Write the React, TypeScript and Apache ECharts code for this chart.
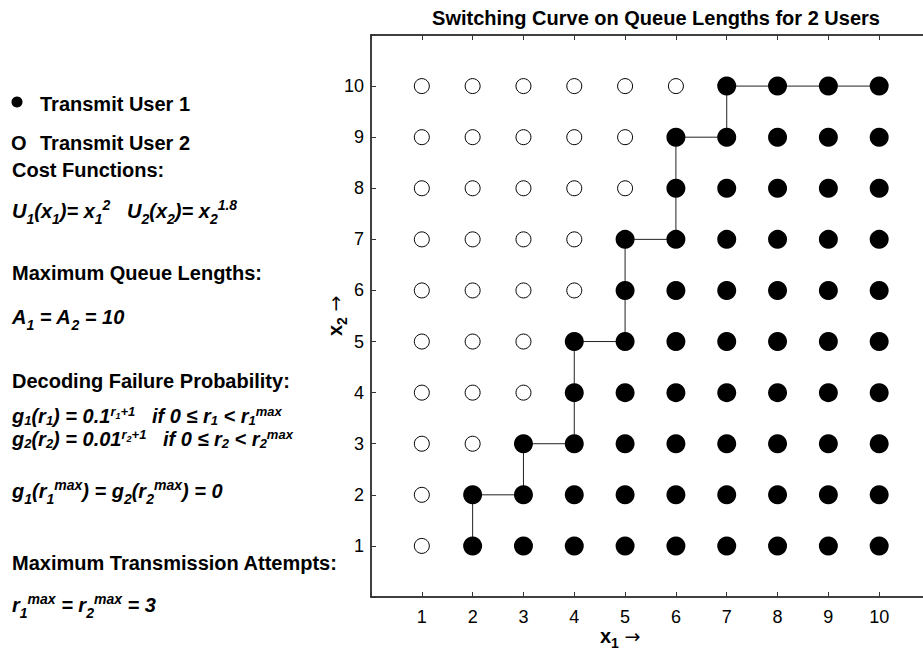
import React, { useEffect, useRef } from "react";
import * as echarts from "echarts";

// ---------- data ----------
const xTicks = [1, 2, 3, 4, 5, 6, 7, 8, 9, 10];
const yTicks = [1, 2, 3, 4, 5, 6, 7, 8, 9, 10];
// smallest x1 at which User 1 transmits, for x2 = 1..10
const switchX1 = [2, 2, 3, 4, 4, 5, 5, 6, 6, 7];
const titleText = "Switching Curve on Queue Lengths for 2 Users";
const seriesNames = ["Transmit User 1", "Transmit User 2"];
const headings = [
  "Cost Functions:",
  "Maximum Queue Lengths:",
  "Decoding Failure Probability:",
  "Maximum Transmission Attempts:",
];
const formulas = [
  "U{s|1}(x{s|1})= x{s|1}{p|2}   U{s|2}(x{s|2})= x{s|2}{p|1.8}",
  "A{s|1} = A{s|2} = 10",
  "g{s|1}(r{s|1}) = 0.1{p|r}{pp|1}{p|+1}   if 0 ≤ r{s|1} < r{s|1}{p|max}",
  "g{s|2}(r{s|2}) = 0.01{p|r}{pp|2}{p|+1}   if 0 ≤ r{s|2} < r{s|2}{p|max}",
  "g{s|1}(r{s|1}{p|max}) = g{s|2}(r{s|2}{p|max}) = 0",
  "r{s|1}{p|max} = r{s|2}{p|max} = 3",
];

const FONT = "'Liberation Sans', Arial, Helvetica, sans-serif";

function buildPoints() {
  const user1: number[][] = [];
  const user2: number[][] = [];
  yTicks.forEach((y, i) => {
    xTicks.forEach((x) => {
      (x >= switchX1[i] ? user1 : user2).push([x, y]);
    });
  });
  const curve: number[][] = [];
  switchX1.forEach((x, i) => {
    const y = yTicks[i];
    curve.push([x, y]);
    const next = switchX1[i + 1];
    if (next !== undefined && next !== x) curve.push([next, y]);
  });
  curve.push([xTicks[xTicks.length - 1], yTicks[yTicks.length - 1]]);
  return { user1, user2, curve };
}

const tok = (size: number, italic: boolean, extra: any = {}) => ({
  fontFamily: FONT,
  fontSize: size,
  fontWeight: "bold",
  fontStyle: italic ? "italic" : "normal",
  fill: "#000",
  ...extra,
});

const richStyles = {
  s: tok(14, true, { verticalAlign: "bottom", lineHeight: 13 }),
  p: tok(14, true, { verticalAlign: "top", lineHeight: 13, padding: [2, 0, 0, 0] }),
  pp: tok(10, true, { verticalAlign: "top", lineHeight: 9, padding: [8, 0, 0, 0] }),
};

const richTight = {
  s: tok(13, true, { verticalAlign: "bottom", lineHeight: 13 }),
  p: tok(13, true, { verticalAlign: "top", lineHeight: 13 }),
  pp: tok(9, true, { verticalAlign: "top", lineHeight: 9, padding: [6, 0, 0, 0] }),
};

function headingText(text: string, x: number, y: number) {
  return {
    type: "text",
    x,
    y,
    silent: true,
    style: { text, ...tok(20, false), verticalAlign: "middle", align: "left" },
  };
}

function formulaText(text: string, x: number, y: number, tight = false) {
  return {
    type: "text",
    x,
    y,
    silent: true,
    style: {
      text,
      ...tok(20, true),
      lineHeight: tight ? 22 : 30,
      verticalAlign: "middle",
      align: "left",
      rich: tight ? richTight : richStyles,
    },
  };
}

function axisName(sub: string, x: number, y: number, rotation: number) {
  return {
    type: "text",
    x,
    y,
    rotation,
    silent: true,
    style: {
      text: `x{s|${sub}} {a|→}`,
      ...tok(20, false),
      lineHeight: 28,
      verticalAlign: "middle",
      align: "left",
      rich: {
        s: tok(14, false, { verticalAlign: "bottom", lineHeight: 12 }),
        a: { fontFamily: "'DejaVu Sans', sans-serif", fontSize: 19, fill: "#000" },
      },
    },
  };
}

export default function App() {
  const ref = useRef<HTMLDivElement>(null);
  useEffect(() => {
    if (!ref.current) return;
    const chart = echarts.init(ref.current, undefined, { renderer: "svg" });
    const { user1, user2, curve } = buildPoints();

    const axisCommon = {
      type: "value",
      min: 0,
      max: 11,
      interval: 1,
      splitLine: { show: false },
      axisLine: { show: true, onZero: false, lineStyle: { color: "#000", width: 1.5 } },
      axisTick: { show: true, inside: true, length: 5, lineStyle: { color: "#333", width: 1 } },
    };
    const labelFmt = (v: number) => (v >= 1 && v <= 10 ? String(v) : "");

    chart.setOption({
      animation: false,
      backgroundColor: "#fff",
      title: {
        text: titleText,
        left: 651,
        top: 3,
        textAlign: "center",
        textStyle: { fontFamily: FONT, fontSize: 20, fontWeight: "bold", color: "#000" },
      },
      grid: {
        left: 371,
        top: 35,
        width: 559,
        height: 562,
        containLabel: false,
        outerBoundsMode: "none",
      },
      xAxis: [
        {
          ...axisCommon,
          position: "bottom",
          axisLabel: { fontFamily: FONT, fontSize: 18, color: "#000", margin: 11, formatter: labelFmt },
        },
        {
          ...axisCommon,
          position: "top",
          axisLabel: { show: false },
        },
      ],
      yAxis: [
        {
          ...axisCommon,
          position: "left",
          axisLabel: { fontFamily: FONT, fontSize: 18, color: "#000", margin: 7, formatter: labelFmt },
        },
        {
          ...axisCommon,
          position: "right",
          axisLabel: { show: false },
        },
      ],
      series: [
        {
          type: "line",
          name: "Switching curve",
          data: curve,
          symbol: "none",
          silent: true,
          lineStyle: { color: "#222", width: 1 },
          z: 1,
        },
        {
          type: "scatter",
          name: seriesNames[0],
          data: user1,
          symbol: "circle",
          symbolSize: 19,
          silent: true,
          itemStyle: { color: "#000", opacity: 1 },
          z: 3,
        },
        {
          type: "scatter",
          name: seriesNames[1],
          data: user2,
          symbol: "circle",
          symbolSize: 15,
          silent: true,
          itemStyle: { color: "#fff", borderColor: "#000", borderWidth: 1, opacity: 1 },
          z: 3,
        },
      ],
      graphic: [
        {
          type: "circle",
          shape: { cx: 17, cy: 102, r: 5.5 },
          style: { fill: "#000" },
          silent: true,
        },
        headingText(seriesNames[0], 40, 104),
        {
          type: "text",
          x: 11,
          y: 143,
          silent: true,
          style: { text: "O", ...tok(20, false), verticalAlign: "middle" },
        },
        headingText(seriesNames[1], 40, 143),
        headingText(headings[0], 12, 170),
        formulaText(formulas[0], 12, 211),
        headingText(headings[1], 12, 273),
        formulaText(formulas[1], 12, 317),
        headingText(headings[2], 12, 381),
        formulaText(formulas[2], 12, 416, true),
        formulaText(formulas[3], 12, 439, true),
        formulaText(formulas[4], 12, 491),
        headingText(headings[3], 12, 563),
        formulaText(formulas[5], 12, 605),
        axisName("1", 600, 636, 0),
        axisName("2", 335, 336, Math.PI / 2),
      ],
    });
    return () => chart.dispose();
  }, []);
  return (
    <div
      ref={ref}
      style={{ position: "fixed", left: 0, top: 0, width: 923, height: 654, background: "#fff" }}
    />
  );
}
